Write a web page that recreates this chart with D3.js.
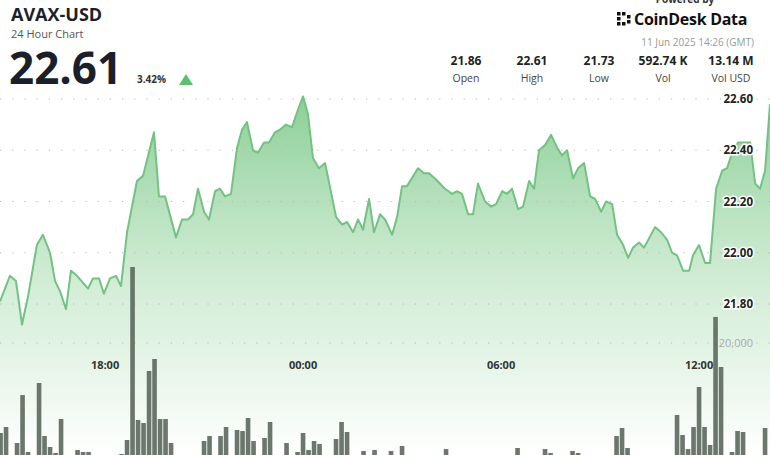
<!DOCTYPE html>
<html><head><meta charset="utf-8">
<script src="https://cdn.jsdelivr.net/npm/d3@7"></script>
<style>body{margin:0;background:#fff}svg{display:block;font-family:'Open Sans',sans-serif}</style>
</head><body><svg id="chart" width="770" height="455"></svg>
<script>
// minutes from 10 Jun 18:00 GMT, and AVAX price
const priceMinutes = [-191,-173,-162,-151,-140,-124,-113,-100,-91,-82,-71,-62,-51,-31,-22,-11,-2,9,20,29,40,58,69,89,98,109,129,140,151,160,169,180,189,200,209,218,229,240,249,258,269,278,289,298,309,318,329,340,351,360,369,378,389,400,420,431,440,451,460,469,480,489,500,509,522,531,540,549,569,580,589,600,618,631,640,649,660,669,678,691,702,711,722,731,740,751,760,771,780,789,800,811,822,831,840,851,860,871,882,891,902,911,922,931,942,951,960,971,980,1000,1011,1022,1031,1040,1051,1062,1069,1080,1091,1100,1111,1122,1131,1140,1151,1173,1182,1191,1200,1209];
const prices = [21.81,21.91,21.89,21.72,21.83,22.03,22.07,22.00,21.89,21.85,21.78,21.93,21.91,21.86,21.90,21.90,21.84,21.90,21.91,21.87,22.08,22.28,22.30,22.47,22.22,22.22,22.06,22.13,22.13,22.15,22.25,22.16,22.13,22.24,22.25,22.22,22.23,22.41,22.48,22.51,22.40,22.39,22.43,22.43,22.47,22.48,22.50,22.49,22.56,22.61,22.54,22.37,22.33,22.35,22.14,22.11,22.12,22.08,22.13,22.09,22.21,22.08,22.15,22.13,22.07,22.14,22.26,22.26,22.33,22.31,22.31,22.29,22.25,22.23,22.24,22.23,22.15,22.15,22.27,22.20,22.18,22.19,22.24,22.23,22.25,22.17,22.18,22.28,22.25,22.40,22.42,22.46,22.41,22.38,22.40,22.29,22.33,22.35,22.22,22.21,22.16,22.20,22.19,22.07,22.03,21.98,22.02,22.04,22.02,22.10,22.08,22.05,22.00,21.99,21.93,21.93,21.99,22.03,21.96,21.96,22.25,22.32,22.33,22.39,22.43,22.43,22.27,22.25,22.32,22.58];
// 10-minute volume bins starting at minute -190 (bin index -> volume)
const volStart = -190;
const volReadings = {0:5830,1:6770,3:4250,4:11800,5:2835,7:13700,8:5350,9:3620,10:2680,11:8030,14:3150,15:2835,16:2835,22:2520,23:4725,24:31970,25:7875,26:7400,27:15600,28:17480,29:8030,30:8030,31:4250,37:4570,38:5350,40:5350,41:6770,43:6300,44:6140,45:8190,46:4570,48:5040,49:7560,52:4250,54:2835,55:5830,56:3150,57:4570,58:4100,61:4880,62:7560,63:5985,66:2990,68:3150,71:2990,73:3780,81:3300,94:3465,99:3300,100:2680,104:2990,105:2680,112:5350,113:6615,114:3465,123:8660,124:5510,125:3300,126:6770,127:13070,128:6770,129:3940,130:24100,131:16220,133:2835,134:6140,135:5985,139:6615};
const volumes = d3.range(140).map(i => volReadings[i] || 1500);
const priceTicks = [21.8, 22.0, 22.2, 22.4, 22.6];
const volTicks = [20000];
const timeTicks = [0, 360, 720, 1080];
const timeLabels = ['18:00', '00:00', '06:00', '12:00'];
const stats = [['21.86','Open'],['22.61','High'],['21.73','Low'],['592.74 K','Vol'],['13.14 M','Vol USD']];

const svg = d3.select('svg');
const W = 770, H = 455;
const base = new Date(Date.UTC(2025, 5, 10, 18, 0));
const t = m => new Date(base.getTime() + m * 60000);

const x = d3.scaleTime().domain([t(-191), t(1209)]).range([0, 770]);
const y = d3.scaleLinear().domain([21.8, 22.6]).range([304, 99]);
const yv = d3.scaleLinear().domain([0, 20000]).range([470, 343]);

const defs = svg.append('defs');
const grad = defs.append('linearGradient').attr('id', 'ag').attr('x1', 0).attr('y1', 0).attr('x2', 0).attr('y2', 1);
grad.append('stop').attr('offset', '0%').attr('stop-color', '#86cc92').attr('stop-opacity', 0.95);
grad.append('stop').attr('offset', '55%').attr('stop-color', '#cbeacf').attr('stop-opacity', 0.8);
grad.append('stop').attr('offset', '100%').attr('stop-color', '#ffffff').attr('stop-opacity', 0.9);

const pts = priceMinutes.map((m, i) => [t(m), prices[i]]);

svg.append('path')
  .attr('d', d3.area().x(d => x(d[0])).y0(H).y1(d => y(d[1]))(pts))
  .attr('fill', 'url(#ag)');

// grid
const gridYs = priceTicks.map(v => y(v)).concat(volTicks.map(v => yv(v)));
svg.append('g').selectAll('line').data(gridYs).enter().append('line')
  .attr('x1', 0).attr('x2', W).attr('y1', d => d).attr('y2', d => d)
  .attr('stroke', '#b8b8b8').attr('stroke-width', 1.2)
  .attr('stroke-dasharray', '1.2 11');

// volume bars
svg.append('g').selectAll('rect').data(volumes).enter().append('rect')
  .attr('x', (d, i) => x(t(volStart + i * 10)) - 2.3)
  .attr('width', 4.6)
  .attr('y', d => yv(d))
  .attr('height', d => yv(0) - yv(d))
  .attr('fill', '#5e6a5f').attr('opacity', 0.92);

svg.append('path')
  .attr('d', d3.line().x(d => x(d[0])).y(d => y(d[1]))(pts))
  .attr('fill', 'none').attr('stroke', '#72c282').attr('stroke-width', 2)
  .attr('stroke-linejoin', 'round');

// axis labels
svg.append('g').selectAll('text').data(priceTicks).enter().append('text')
  .attr('x', 753).attr('y', d => y(d) + 4).attr('text-anchor', 'end')
  .attr('font-size', 11.5).attr('font-weight', 700).attr('fill', '#222')
  .attr('stroke', '#fff').attr('stroke-width', 3).attr('paint-order', 'stroke')
  .text(d => d.toFixed(2));
svg.append('text').attr('x', 753).attr('y', yv(20000) + 4).attr('text-anchor', 'end')
  .attr('font-size', 11).attr('fill', '#aaa').text('20,000');
svg.append('g').selectAll('text').data(timeTicks).enter().append('text')
  .attr('x', d => x(t(d))).attr('y', 369).attr('text-anchor', 'middle')
  .attr('font-size', 11).attr('font-weight', 700).attr('fill', '#333')
  .text((d, i) => timeLabels[i]);

// header
svg.append('text').attr('x', 11).attr('y', 21).attr('font-size', 18).attr('font-weight', 700).attr('fill', '#1b1f2a').text('AVAX-USD');
svg.append('text').attr('x', 11).attr('y', 38).attr('font-size', 11).attr('fill', '#555').text('24 Hour Chart');
svg.append('text').attr('x', 9).attr('y', 84).attr('font-size', 44).attr('font-weight', 700).attr('fill', '#1b1f2a').text('22.61');
svg.append('text').attr('x', 137).attr('y', 83).attr('font-size', 10).attr('font-weight', 700).attr('fill', '#333').text('3.42%');
svg.append('path').attr('d', 'M179,85 L186,74 L193,85 Z').attr('fill', '#5cbf6e');

svg.append('text').attr('x', 685).attr('y', 3).attr('text-anchor', 'middle').attr('font-size', 10).attr('font-weight', 700).attr('fill', '#333').text('Powered by');
const lg = svg.append('g').attr('transform', 'translate(617,12)');
[[0,0],[0,5],[0,10],[5,0],[5,10],[10,3],[10,8]].forEach(p => lg.append('rect').attr('x', p[0]).attr('y', p[1]).attr('width', 3.5).attr('height', 3.5).attr('fill', '#111'));
svg.append('text').attr('x', 634).attr('y', 25).attr('font-size', 16).attr('font-weight', 700).attr('fill', '#111').attr('letter-spacing', -0.3).text('CoinDesk Data');
svg.append('text').attr('x', 754).attr('y', 46).attr('text-anchor', 'end').attr('font-size', 10).attr('fill', '#999').text('11 Jun 2025 14:26 (GMT)');

const cx = [466, 532, 599, 663, 731];
const sg = svg.append('g').selectAll('g').data(stats).enter().append('g');
sg.append('text').attr('x', (d, i) => cx[i]).attr('y', 65).attr('text-anchor', 'middle')
  .attr('font-size', 12).attr('font-weight', 700).attr('fill', '#222').text(d => d[0]);
sg.append('text').attr('x', (d, i) => cx[i]).attr('y', 82).attr('text-anchor', 'middle')
  .attr('font-size', 10.5).attr('fill', '#444').text(d => d[1]);
</script></body></html>
